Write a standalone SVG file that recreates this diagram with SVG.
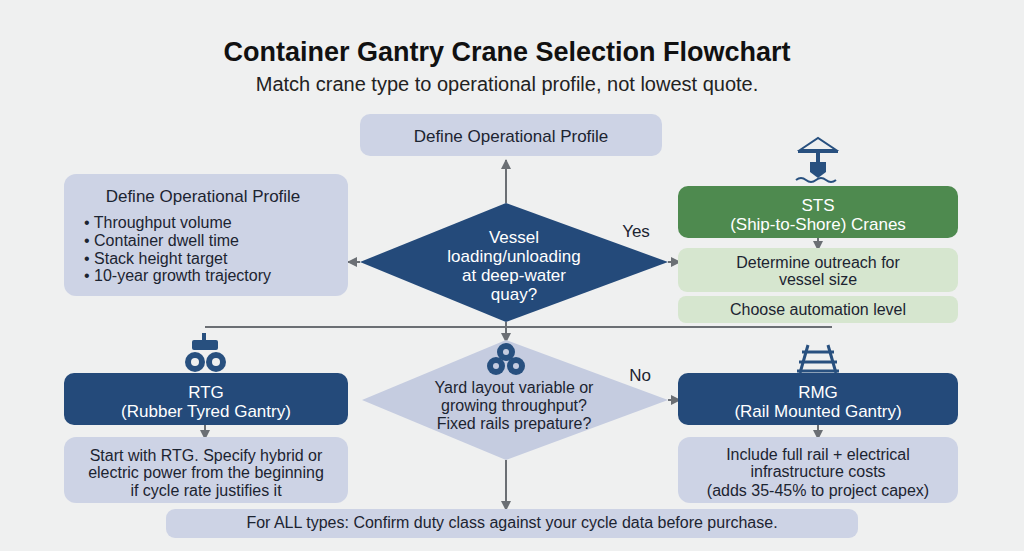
<svg xmlns="http://www.w3.org/2000/svg" width="1024" height="551" viewBox="0 0 1024 551">
<defs>
<style>
text{font-family:"Liberation Sans",Arial,sans-serif;text-anchor:middle}
.t{font-size:16px;fill:#1c2431}
.w{font-size:17px;fill:#fff}
.lb{fill:#cdd3e5}
.nv{fill:#244a7a}
.lg{fill:#d6e6cf}
.ln{stroke:#6b6f74;stroke-width:2;fill:none}
.ic{fill:#28507f}
</style>
<marker id="a" viewBox="0 0 10 10" refX="9" refY="5" markerWidth="5" markerHeight="5" orient="auto-start-reverse"><path d="M0,0L10,5L0,10z" fill="#6b6f74"/></marker>
</defs>
<rect width="1024" height="551" fill="#eff0f0"/>
<text x="507" y="61" style="font-size:27px;font-weight:bold;fill:#111">Container Gantry Crane Selection Flowchart</text>
<text x="507" y="91" style="font-size:20px;fill:#222">Match crane type to operational profile, not lowest quote.</text>

<g id="connectors">
<path class="ln" d="M506,203V160" marker-end="url(#a)"/>
<path class="ln" d="M360,262H348" marker-end="url(#a)"/>
<path class="ln" d="M668,262H680" marker-end="url(#a)"/>
<path class="ln" d="M818,238V250" marker-end="url(#a)"/>
<path class="ln" d="M205,327H832"/>
<path class="ln" d="M506,322V342" marker-end="url(#a)"/>
<path class="ln" d="M668,400H680" marker-end="url(#a)"/>
<path class="ln" d="M506,460V510" marker-end="url(#a)"/>
<path class="ln" d="M205,425V439" marker-end="url(#a)"/>
<path class="ln" d="M818,425V439" marker-end="url(#a)"/>
<text x="636" y="237" class="t" style="font-size:17px">Yes</text>
<text x="640" y="381" class="t" style="font-size:17px">No</text>
</g>

<g id="top"><rect class="lb" x="360" y="114" width="302" height="42" rx="10"/><text class="t" x="511" y="142" style="font-size:17px">Define Operational Profile</text></g>

<g id="profile"><rect class="lb" x="64" y="174" width="284" height="122" rx="12"/>
<text class="t" x="203" y="202" style="font-size:17px">Define Operational Profile</text>
<text class="t" x="84" y="228" style="text-anchor:start">• Throughput volume</text>
<text class="t" x="84" y="246" style="text-anchor:start">• Container dwell time</text>
<text class="t" x="84" y="264" style="text-anchor:start">• Stack height target</text>
<text class="t" x="84" y="281" style="text-anchor:start">• 10-year growth trajectory</text></g>

<g id="d1"><path class="nv" d="M506,203L668,262L506,322L360,262z"/>
<text class="w" x="514" y="243">Vessel</text><text class="w" x="514" y="262">loading/unloading</text><text class="w" x="514" y="281">at deep-water</text><text class="w" x="514" y="300">quay?</text></g>

<g id="sts">
<g class="ic"><path d="M800,150L818,138L836,150z" fill="none" stroke="#28507f" stroke-width="2"/><rect x="798" y="150" width="40" height="3"/><path d="M810,162h16v10l-8,6l-8-6z"/><rect x="816" y="153" width="4" height="9"/><path d="M796,180q5,-4 10,0t10,0t10,0t10,0" stroke="#28507f" stroke-width="2" fill="none"/></g>
<rect x="678" y="186" width="280" height="52" rx="10" fill="#4e8a4f"/>
<text class="w" x="818" y="211">STS</text><text class="w" x="818" y="230">(Ship-to-Shore) Cranes</text></g>
<g id="outreach"><rect class="lg" x="678" y="248" width="280" height="44" rx="9"/><text class="t" x="818" y="268">Determine outreach for</text><text class="t" x="818" y="285">vessel size</text></g>
<g id="auto"><rect class="lg" x="678" y="296" width="280" height="27" rx="8"/><text class="t" x="818" y="315">Choose automation level</text></g>

<g id="d2"><path d="M506,340L668,400L506,460L362,400z" fill="#c5cce0"/>
<g class="ic"><circle cx="506" cy="352" r="9"/><circle cx="496" cy="366" r="9"/><circle cx="516" cy="366" r="9"/><g fill="#c5cce0"><circle cx="506" cy="352" r="3"/><circle cx="496" cy="366" r="3"/><circle cx="516" cy="366" r="3"/></g></g>
<text class="t" x="514" y="393">Yard layout variable or</text><text class="t" x="514" y="411">growing throughput?</text><text class="t" x="514" y="429">Fixed rails prepature?</text></g>

<g id="rtg">
<g class="ic"><rect x="192" y="340" width="26" height="10" rx="2"/><rect x="202" y="333" width="4" height="7"/><circle cx="195" cy="362" r="10"/><circle cx="216" cy="362" r="10"/><g fill="#eff0f0"><circle cx="195" cy="362" r="4"/><circle cx="216" cy="362" r="4"/></g></g>
<rect class="nv" x="64" y="373" width="284" height="52" rx="10"/>
<text class="w" x="206" y="398">RTG</text><text class="w" x="206" y="417">(Rubber Tyred Gantry)</text></g>
<g id="rtgnote"><rect class="lb" x="64" y="437" width="284" height="66" rx="12"/><text class="t" x="206" y="461">Start with RTG. Specify hybrid or</text><text class="t" x="206" y="478">electric power from the beginning</text><text class="t" x="206" y="496">if cycle rate justifies it</text></g>

<g id="rmg">
<g stroke="#28507f" stroke-width="3" fill="none"><path d="M808,345L800,373M828,345L836,373"/><path d="M802,352H834M799,362H837M797,371H839"/></g>
<rect class="nv" x="678" y="373" width="280" height="52" rx="10"/>
<text class="w" x="818" y="398">RMG</text><text class="w" x="818" y="417">(Rail Mounted Gantry)</text></g>
<g id="rmgnote"><rect class="lb" x="678" y="437" width="280" height="66" rx="12"/><text class="t" x="818" y="460">Include full rail + electrical</text><text class="t" x="818" y="477">infrastructure costs</text><text class="t" x="818" y="496">(adds 35-45% to project capex)</text></g>

<g id="bottom"><rect class="lb" x="166" y="509" width="692" height="29" rx="9"/><text class="t" x="512" y="528">For ALL types: Confirm duty class against your cycle data before purchase.</text></g>
</svg>
